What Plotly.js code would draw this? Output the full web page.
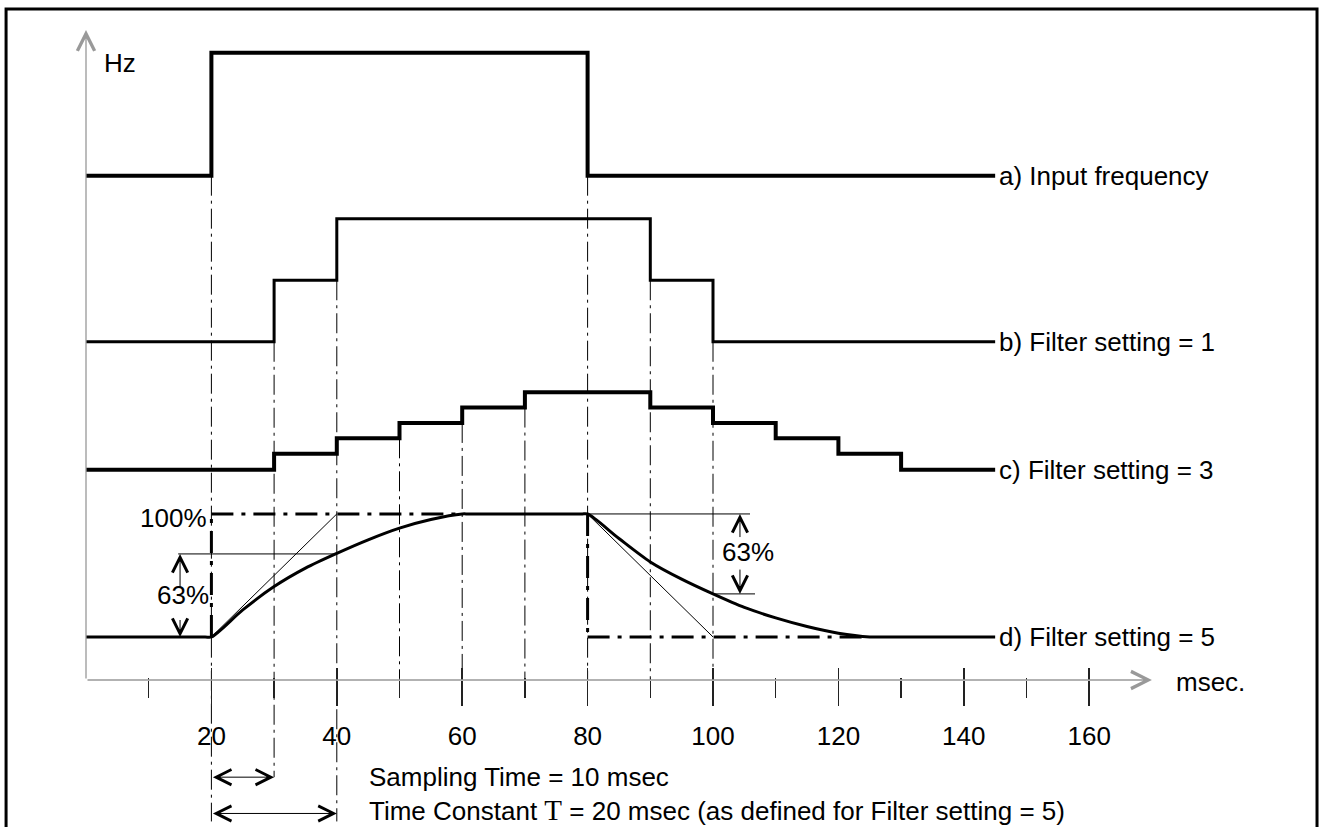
<!DOCTYPE html>
<html><head><meta charset="utf-8">
<script src="https://cdn.plot.ly/plotly-3.0.1.min.js"></script>
<style>html,body{margin:0;padding:0;background:#fff}#chart{width:1319px;height:827px}</style>
</head><body><div id="chart"></div>
<script>
// ---- data (time in msec, frequency in schematic Hz units) ----
const msA = [0, 20, 80, 145];
const hzA = [41, 51, 41, 41];

const msB = [0, 30, 40, 90, 100, 145];
const hzB = [27.5, 32.5, 37.5, 32.5, 27.5, 27.5];

const msC = [0, 30, 40, 50, 60, 70, 90, 100, 110, 120, 130, 145];
const hzC = [17.1, 18.4, 19.65, 20.9, 22.15, 23.4, 22.15, 20.9, 19.65, 18.4, 17.1, 17.1];

const msD = [0, 19, 20, 25, 30, 35, 40, 45, 50, 55, 60, 61, 79, 80, 85, 90, 95, 100, 105, 110, 115, 120, 125, 126, 145];
const hzD = [3.5, 3.5, 3.5, 5.7, 7.6, 9.1, 10.3, 11.4, 12.35, 13.05, 13.5, 13.5, 13.5, 13.5, 11.5, 9.6, 8.2, 7.0, 5.9, 5.05, 4.35, 3.8, 3.5, 3.5, 3.5];

// sample instants with guide lines: from the step level down to
const guideMs     = [20, 30, 40, 50, 60, 70, 80, 90, 100];
const guideTop    = [41, 27.5, 32.5, 19.65, 20.9, 22.15, 41, 32.5, 27.5];
const guideBottom = [-11.5, -7.9, -11.5, 0, 0, 0, 0, 0, 0];

const majorTicks = [20, 40, 60, 80, 100, 120, 140, 160];
const minorTicks = [10, 30, 50, 70, 90, 110, 130, 150];

// time-constant construction for filter setting 5
const dLow = 3.5, dHigh = 13.5, d63Rise = 10.25, d63Fall = 7.0;
const tauStart = [20, 80], tauEnd = [40, 100];

const seriesLabels = ['a) Input frequency', 'b) Filter setting = 1', 'c) Filter setting = 3', 'd) Filter setting = 5'];
const seriesLevels = [hzA[0], hzB[0], hzC[0], hzD[0]];

const FONT = '"Liberation Sans", Arial, sans-serif';
const F = {family: FONT, size: 26, color: '#000'};

function ln(x, y, w, dash, shape, extra) {
  return Object.assign({type: 'scatter', mode: 'lines', x: x, y: y,
    line: {color: '#000', width: w, dash: dash || 'solid', shape: shape || 'linear'},
    hoverinfo: 'skip', showlegend: false}, extra || {});
}

// guide lines with null separators
const gx = [], gy = [];
guideMs.forEach((m, i) => { gx.push(m, m, null); gy.push(guideTop[i], guideBottom[i], null); });

const traces = [
  ln(gx, gy, 1, '20px,5px,3px,5px', 'linear', {xaxis: 'x2'}),
  ln(msA, hzA, 4, 'solid', 'hv'),
  ln(msB, hzB, 3, 'solid', 'hv'),
  ln(msC, hzC, 4, 'solid', 'hv'),
  // thin tangents
  ln([tauStart[0], tauEnd[0], null, tauStart[1], tauEnd[1]], [dLow, dHigh, null, dHigh, dLow], 1),
  // 63% reference lines
  ln([14.7, tauEnd[0], null, tauStart[1], 105.9, null, tauEnd[1], 106.7],
     [d63Rise, d63Rise, null, dHigh, dHigh, null, d63Fall, d63Fall], 1),
  // thick dash-dot 100% / 0% construction
  ln([tauStart[0], 60, null, tauStart[0], tauStart[0], null, tauStart[1], tauStart[1], null, tauStart[1], 124],
     [dHigh, dHigh, null, dLow, dHigh, null, dHigh, dLow, null, dLow, dLow], 3, '22px,8px,4px,8px'),
  ln(msD, hzD, 3, 'solid', 'spline', {line: {color: '#000', width: 3, shape: 'spline', smoothing: 0.8}}),
];

const annotations = [];
seriesLabels.forEach((t, i) => annotations.push({x: 145.3, y: seriesLevels[i], xref: 'x', yref: 'y', text: t,
  xanchor: 'left', yanchor: 'middle', showarrow: false, font: F}));

// axes arrows
annotations.push({x: 170, y: 0, ax: 0, ay: 0, axref: 'x', ayref: 'y', xref: 'x', yref: 'y', text: '',
  showarrow: true, arrowhead: 5, arrowsize: 2.6, arrowwidth: 1.3, arrowcolor: '#999'});
annotations.push({x: 0, y: 52.85, ax: 0, ay: 0, axref: 'x', ayref: 'y', xref: 'x', yref: 'y', text: '',
  showarrow: true, arrowhead: 5, arrowsize: 2.6, arrowwidth: 1.3, arrowcolor: '#999'});
annotations.push({x: 2.5, y: 50.2, xref: 'x', yref: 'y', text: 'Hz', xanchor: 'left', yanchor: 'middle', showarrow: false, font: F});
annotations.push({x: 173.5, y: -0.2, xref: 'x', yref: 'y', text: 'msec.', xanchor: 'left', yanchor: 'middle', showarrow: false, font: F});

// percentage labels and arrows
annotations.push({x: 19.6, y: 13.2, xref: 'x', yref: 'y', text: '100%', xanchor: 'right', yanchor: 'middle', showarrow: false, font: F});
annotations.push({x: 15.5, y: 6.9, xref: 'x', yref: 'y', text: '63%', xanchor: 'center', yanchor: 'middle', showarrow: false, font: F});
annotations.push({x: 105.6, y: 10.4, xref: 'x', yref: 'y', text: '63%', xanchor: 'center', yanchor: 'middle', showarrow: false, font: F});
function arr(x, y, ax, ay, both) {
  const a = {x: x, y: y, ax: ax, ay: ay, axref: 'x', ayref: 'y', xref: 'x', yref: 'y', text: '',
    showarrow: true, arrowhead: 5, arrowsize: 3, arrowwidth: 1, arrowcolor: '#000'};
  if (both) { a.arrowside = 'end+start'; a.startarrowhead = 5; a.startarrowsize = 3; }
  return a;
}
annotations.push(arr(15.0, d63Rise, 15.0, 7.4));
annotations.push(arr(15.0, dLow, 15.0, 5.0));
annotations.push(arr(104.3, dHigh, 104.3, 11.5));
annotations.push(arr(104.3, d63Fall, 104.3, 9.1));

// sampling time / time constant
annotations.push(arr(30, -7.9, 20, -7.9, true));
annotations.push(arr(40, -10.85, 20, -10.85, true));
annotations.push({x: 44.8, y: -7.9, xref: 'x', yref: 'y', text: 'Sampling Time = 10 msec', xanchor: 'left', yanchor: 'middle', showarrow: false, font: F});
annotations.push({x: 44.8, y: -10.55, xref: 'x', yref: 'y',
  text: 'Time Constant <span style="font-family:\'Liberation Serif\', serif;font-size:29px">T</span> = 20 msec (as defined for Filter setting = 5)',
  xanchor: 'left', yanchor: 'middle', showarrow: false, font: F});

const layout = {
  width: 1319, height: 827,
  margin: {l: 0, r: 0, t: 0, b: 0},
  paper_bgcolor: '#fff', plot_bgcolor: '#fff',
  showlegend: false,
  xaxis: {range: [-13.716, 196.65], anchor: 'free', position: 0.17775, showline: false, showgrid: false, zeroline: false,
    tickmode: 'array', tickvals: majorTicks, ticktext: majorTicks.map(String),
    ticks: 'outside', ticklen: 25, tickwidth: 1.5, tickcolor: '#222', tickfont: F, ticklabelstandoff: 8,
    minor: {tickmode: 'array', tickvals: minorTicks, ticks: 'outside', ticklen: 17, tickwidth: 1.5, tickcolor: '#222', showgrid: false},
    fixedrange: true},
  xaxis2: {overlaying: 'x', matches: 'x', range: [-13.716, 196.65], anchor: 'free', position: 0.17775, side: 'bottom',
    showline: false, showgrid: false, zeroline: false, showticklabels: false,
    tickmode: 'array', tickvals: majorTicks, ticks: 'inside', ticklen: 12, tickwidth: 1.5, tickcolor: '#222',
    minor: {tickmode: 'array', tickvals: minorTicks, ticks: 'inside', ticklen: 2, tickwidth: 1.5, tickcolor: '#222', showgrid: false}},
  yaxis: {range: [-11.951, 55.285], visible: false, showgrid: false, zeroline: false, fixedrange: true},
  annotations: annotations,
  shapes: [{type: 'rect', xref: 'paper', yref: 'paper', x0: 0.0046, x1: 0.9985, y0: -0.05, y1: 0.9891,
    line: {color: '#000', width: 3}, fillcolor: 'rgba(0,0,0,0)', layer: 'above'}]
};

Plotly.newPlot('chart', traces, layout, {displayModeBar: false, staticPlot: true});
</script>
</body></html>
